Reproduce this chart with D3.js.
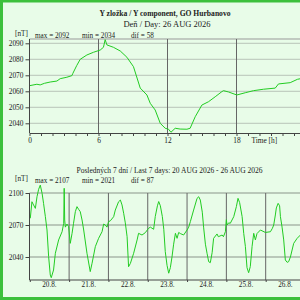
<!DOCTYPE html>
<html>
<head>
<meta charset="utf-8">
<script src="https://cdn.jsdelivr.net/npm/d3@7"></script>
<style>
  body { margin: 0; background: #e8fce8; }
  svg { display: block; }
  text { font-family: "Liberation Serif", "Times New Roman", serif; fill: #222; }
</style>
</head>
<body>
<svg id="chart" width="300" height="300"></svg>
<script>
// day plot: hours since 00:00 UT, Y component [nT]
const dayHours = [0, 0.64, 0.93, 1.3, 1.8, 2.38, 2.67, 3.25, 3.69, 3.77, 4.1, 4.41, 4.99, 5.57, 6.15, 6.43, 6.58, 6.73,
  7.3, 7.89, 8.47, 9.04, 9.63, 10.21, 10.5, 10.93, 11.37, 11.8, 12.09, 12.3, 12.67, 13.1, 13.69, 13.97,
  14.41, 14.99, 15.57, 16.15, 16.73, 16.87, 17.3, 18.03, 18.76, 19.48, 20.35, 21.37, 21.65, 22.67, 23.3, 24];
const dayValues = [2063.5, 2064.4, 2064.0, 2065.0, 2065.8, 2066.4, 2067.9, 2068.8, 2069.8, 2071.2, 2076, 2080, 2082.7, 2084.4, 2085.8, 2087.5, 2092.3, 2089,
  2087.5, 2085.2, 2081.3, 2075.4, 2062, 2057.7, 2052.5, 2048.3, 2040, 2036.9, 2036.3, 2034.4, 2036.9, 2036.4, 2036.3, 2036.9,
  2044.1, 2051.4, 2053.5, 2056.6, 2059.8, 2060.4, 2059.6, 2057.7, 2059.1, 2060.4, 2061.3, 2062, 2064.6, 2065.4, 2067.5, 2068.5];

// week plot: hours since 20 AUG 00:00 UT
const weekHours = [0.3, 1.3, 2.3, 3.4, 4.4, 5.4, 6.4, 7.5, 8.4, 9.5, 10.5, 11.5, 12.5, 13.1, 14.5, 15.6, 17.6, 19.7, 20.7, 21.0, 21.3, 21.7,
  22.7, 23.7, 24.7, 25.8, 26.7, 27.8, 28.8, 29.8, 30.8, 31.9, 32.9, 34.9, 36.9, 38.0, 40.0, 42.0, 44.1, 45.1, 46.1, 47.1,
  48.1, 49.2, 51.2, 52.2, 54.2, 55.3, 56.3, 57.3, 58.3, 59.4, 60.3, 61.4, 63.4, 65.5, 66.4, 68.5, 70.5, 72.5, 73.6, 75.6,
  76.6, 77.9, 78.7, 79.7, 80.9, 81.8, 82.7, 83.8, 84.8, 85.8, 86.8, 87.8, 88.9, 89.9, 90.9, 91.9, 93.9, 96.0, 97.0, 98.0,
  100.0, 102.1, 103.1, 104.1, 105.3, 106.1, 107.2, 108.2, 109.2, 110.2, 111.3, 112.2, 114.3, 115.1, 117.4, 118.2, 119.4,
  120.0, 120.4, 121.4, 122.4, 124.5, 126.1, 127.1, 128.1, 129.6, 130.6, 131.6, 132.6, 133.6, 134.6, 135.7, 136.7, 137.7,
  138.7, 140.8, 143.8, 146.9, 148.1, 148.9, 149.9, 150.5, 151.6, 152.5, 153.0, 154.0, 155.0, 156.0, 157.1, 158.0, 159.1,
  161.1, 163.2, 165.2, 167.6];
const weekValues = [2076.3, 2091.8, 2088.8, 2085.6, 2096.5, 2103.5, 2107.4, 2099.7, 2090.3, 2077.8, 2065.3, 2040.3, 2023.1, 2020.6, 2027.8, 2043.5, 2056, 2063.7, 2071.6, 2104.4, 2074.7, 2068,
  2070.9, 2068.4, 2052.8, 2062.2, 2071.6, 2082.5, 2087.2, 2084.7, 2082.5, 2074.7, 2065.3, 2043.5, 2026.3, 2034.1, 2049.7, 2057.5, 2063.7, 2070.9, 2070, 2068,
  2073.1, 2074, 2077.8, 2084, 2091.8, 2093.4, 2088.8, 2081, 2072, 2059, 2030.9, 2034, 2043.5, 2056, 2062.2, 2060.6, 2062.8, 2066.9, 2068, 2066,
  2078, 2088, 2092, 2088, 2078, 2066, 2045, 2032, 2024.8, 2030, 2040, 2052, 2062.2, 2057.5, 2063, 2062, 2060.6, 2065.3, 2068, 2073.1,
  2084, 2095, 2096.5, 2093.4, 2082, 2068, 2052, 2043.5, 2035.6, 2034.7, 2044, 2057.5, 2061.6, 2059, 2060.6, 2059, 2063.7,
  2075, 2070, 2072, 2071.6, 2077.8, 2087.2, 2095, 2091, 2078, 2062, 2050, 2030, 2025.3, 2031, 2050, 2062.2, 2056, 2062,
  2065.3, 2063, 2063.7, 2066.9, 2070, 2079.4, 2086, 2090.3, 2088, 2077.8, 2068, 2056, 2037.2, 2035, 2035.6, 2040, 2052.8,
  2057.5, 2060.6, 2062.2, 2063];

const dayGrid = [2040, 2050, 2060, 2070, 2080, 2090];
const weekGrid = [2040, 2070, 2100];
const hourLabels = [0, 6, 12, 18];
const dateLabels = ["20.8.", "21.8.", "22.8.", "23.8.", "24.8.", "25.8.", "26.8."];

const lineColor = "#22cc22";
const axisColor = "#444";
const svg = d3.select("#chart");

const left = 29.5;

const statsOf = values => {
  const max = d3.max(values), min = d3.min(values);
  return ["[nT]", `max = ${Math.round(max)}`, `min = ${Math.round(min)}`, `dif = ${Math.round(max - min)}`];
};

// ---------- day panel ----------
const xDay = d3.scaleLinear().domain([0, 24]).range([left, left + 276]);
const yDay = d3.scaleLinear().domain([2040, 2090]).range([123.3, 43.3]);
const dayTop = 39, dayBottom = 133;

svg.append("g").selectAll("line")
  .data(dayGrid)
  .join("line")
  .attr("x1", left).attr("x2", 310)
  .attr("y1", d => yDay(d)).attr("y2", d => yDay(d))
  .attr("stroke", "#b8c4b8");

svg.append("line")
  .attr("x1", left).attr("x2", 310)
  .attr("y1", dayTop).attr("y2", dayTop)
  .attr("stroke", "#999");

svg.append("g").selectAll("line")
  .data(hourLabels.slice(1))
  .join("line")
  .attr("x1", d => xDay(d)).attr("x2", d => xDay(d))
  .attr("y1", dayTop).attr("y2", dayBottom)
  .attr("stroke", "#666");

svg.append("path")
  .datum(dayHours.map((h, i) => [h, dayValues[i]]))
  .attr("fill", "none")
  .attr("stroke", lineColor)
  .attr("stroke-width", 1)
  .attr("d", d3.line().x(d => xDay(d[0])).y(d => yDay(d[1])));

const dayXAxis = svg.append("g")
  .attr("transform", `translate(0,${dayBottom})`)
  .call(d3.axisBottom(xDay).tickValues(d3.range(0, 25)).tickSize(3).tickSizeOuter(0)
    .tickFormat(d => hourLabels.includes(d) ? d : ""));
dayXAxis.select(".domain").attr("stroke", axisColor);
dayXAxis.selectAll(".tick line").attr("stroke", axisColor);
dayXAxis.selectAll("text").attr("y", 10).attr("dy", 0)
  .attr("font-size", 7.4).attr("font-family", "Liberation Serif").attr("fill", "#222");

const dayYAxis = svg.append("g")
  .attr("transform", `translate(${left},0)`)
  .call(d3.axisLeft(yDay).tickValues(dayGrid).tickSize(4).tickPadding(2).tickSizeOuter(0).tickFormat(d3.format("d")));
dayYAxis.select(".domain").attr("d", `M0,${dayTop}V${dayBottom}`).attr("stroke", axisColor);
dayYAxis.selectAll(".tick line").attr("stroke", axisColor);
dayYAxis.selectAll("text")
  .attr("font-size", 7.4).attr("font-family", "Liberation Serif").attr("fill", "#222");

svg.append("text")
  .attr("x", xDay(19.3)).attr("y", 143)
  .attr("font-size", 7.4)
  .text("Time [h]");

svg.append("text")
  .attr("x", 165).attr("y", 15.5)
  .attr("text-anchor", "middle")
  .attr("font-size", 7.6).attr("font-weight", "bold")
  .text("Y zložka / Y component, GO Hurbanovo");

svg.append("text")
  .attr("x", 167).attr("y", 26.5)
  .attr("text-anchor", "middle")
  .attr("font-size", 8.5)
  .text("Deň / Day: 26 AUG 2026");

svg.append("g").selectAll("text")
  .data(statsOf(dayValues))
  .join("text")
  .attr("x", (d, i) => [15, 35, 82, 131][i])
  .attr("y", (d, i) => i === 0 ? 35.5 : 37.5)
  .attr("font-size", 7.2)
  .text(d => d);

// ---------- week panel ----------
const xWeek = d3.scaleLinear().domain([0, 168]).range([29.8, 305]);
const yWeek = d3.scaleLinear().domain([2040, 2100]).range([257, 193]);
const weekTop = yWeek(2100), weekBottom = 280;

svg.append("g").selectAll("line")
  .data(weekGrid)
  .join("line")
  .attr("x1", left).attr("x2", 310)
  .attr("y1", d => yWeek(d)).attr("y2", d => yWeek(d))
  .attr("stroke", "#8a948a");

svg.append("g").selectAll("line")
  .data(d3.range(24, 168, 24))
  .join("line")
  .attr("x1", d => xWeek(d)).attr("x2", d => xWeek(d))
  .attr("y1", weekTop).attr("y2", weekBottom)
  .attr("stroke", "#666");

svg.append("path")
  .datum(weekHours.map((h, i) => [h, weekValues[i]]))
  .attr("fill", "none")
  .attr("stroke", lineColor)
  .attr("stroke-width", 1)
  .attr("d", d3.line().x(d => xWeek(d[0])).y(d => yWeek(d[1])));

const weekXAxis = svg.append("g")
  .attr("transform", `translate(0,${weekBottom})`)
  .call(d3.axisBottom(xWeek).tickValues(d3.range(0, 169, 24)).tickSize(2).tickSizeOuter(0).tickFormat(""));
weekXAxis.select(".domain").attr("d", `M${left},0H310`).attr("stroke", axisColor);
weekXAxis.selectAll(".tick line").attr("stroke", axisColor);

svg.append("g").selectAll("text")
  .data(dateLabels)
  .join("text")
  .attr("x", (d, i) => xWeek(i * 24 + 12))
  .attr("y", 286.5)
  .attr("text-anchor", "middle")
  .attr("font-size", 7.2)
  .text(d => d);

const weekYAxis = svg.append("g")
  .attr("transform", `translate(${left},0)`)
  .call(d3.axisLeft(yWeek).tickValues(weekGrid).tickSize(4).tickPadding(2).tickSizeOuter(0).tickFormat(d3.format("d")));
weekYAxis.select(".domain").attr("d", `M0,${weekTop}V${weekBottom}`).attr("stroke", axisColor);
weekYAxis.selectAll(".tick line").attr("stroke", axisColor);
weekYAxis.selectAll("text")
  .attr("font-size", 7.4).attr("font-family", "Liberation Serif").attr("fill", "#222");

svg.append("text")
  .attr("x", 169.5).attr("y", 172.5)
  .attr("text-anchor", "middle")
  .attr("font-size", 7.5)
  .text("Posledných 7 dní / Last 7 days: 20 AUG 2026 - 26 AUG 2026");

svg.append("g").selectAll("text")
  .data(statsOf(weekValues))
  .join("text")
  .attr("x", (d, i) => [15, 35, 82, 131][i])
  .attr("y", (d, i) => i === 0 ? 180.5 : 183)
  .attr("font-size", 7.2)
  .text(d => d);

// frame
svg.append("rect")
  .attr("x", 1.5).attr("y", 1)
  .attr("width", 400).attr("height", 297.5)
  .attr("fill", "none")
  .attr("stroke", "#3cc03c")
  .attr("stroke-width", 3);
</script>
</body>
</html>
